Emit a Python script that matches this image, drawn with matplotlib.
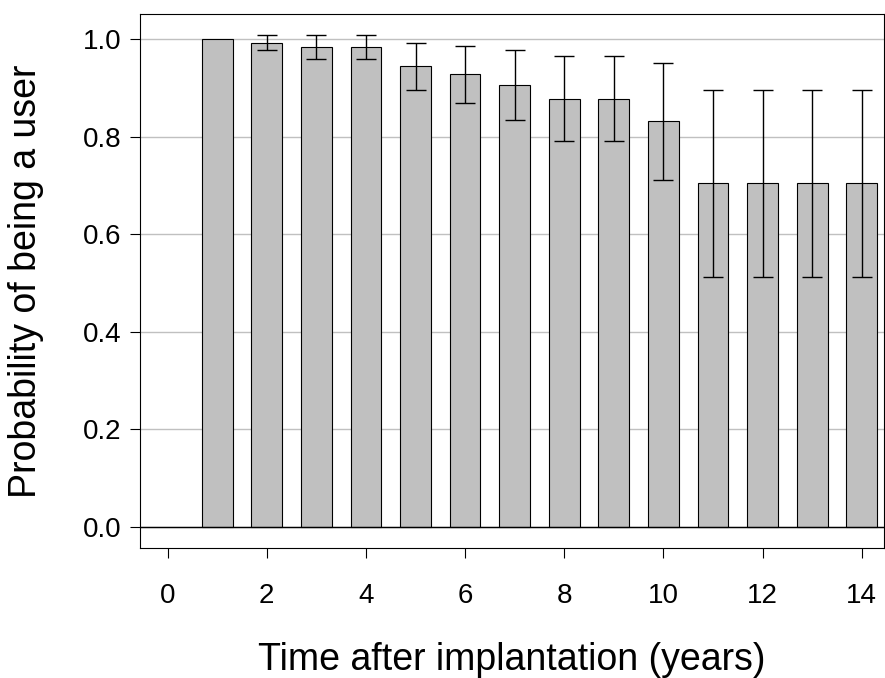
import matplotlib

matplotlib.use("Agg")
import matplotlib.pyplot as plt  # noqa: E402
import numpy as np  # noqa: E402

plt.rcParams["font.family"] = ["Liberation Sans", "DejaVu Sans"]

years = np.arange(1, 15)
prob = [1.0, 0.992, 0.984, 0.984, 0.944, 0.928, 0.905, 0.878, 0.878, 0.832,
        0.704, 0.704, 0.704, 0.704]
upper = [np.nan, 1.008, 1.008, 1.008, 0.993, 0.986, 0.977, 0.966, 0.966, 0.952,
         0.896, 0.896, 0.896, 0.896]
lower = [np.nan, 0.977, 0.960, 0.960, 0.896, 0.870, 0.835, 0.791, 0.791, 0.711,
         0.512, 0.512, 0.512, 0.512]


def main() -> None:
    p = np.array(prob)
    hi = np.array(upper) - p
    lo = p - np.array(lower)
    fig = plt.figure(figsize=(8.85, 6.78), dpi=100)
    ax = fig.add_axes([0.158, 0.192, 0.841, 0.787])
    ax.yaxis.grid(True, color="#c0c0c0", lw=1)
    ax.set_axisbelow(True)
    ax.bar(years, p, width=0.62, color="#c0c0c0", edgecolor="black", lw=0.8, zorder=2)
    m = ~np.isnan(hi)
    ax.errorbar(years[m], p[m], yerr=[lo[m], hi[m]], fmt="none", ecolor="black",
                elinewidth=1, capsize=7, capthick=1, zorder=3)
    ax.axhline(0, color="black", lw=1, zorder=3)
    ax.set_xlim(-0.56, 14.45)
    ax.set_ylim(-0.043, 1.051)
    ax.set_xticks(range(0, 15, 2))
    ax.set_yticks(np.arange(0, 1.01, 0.2))
    ax.set_yticklabels([f"{v:.1f}" for v in np.arange(0, 1.01, 0.2)])
    ax.tick_params(labelsize=20, direction="out", length=7, pad=6)
    ax.tick_params(axis="x", pad=18)
    ax.set_xlabel("Time after implantation (years)", fontsize=27, labelpad=24)
    ax.set_ylabel("Probability of being a user", fontsize=27, labelpad=28)
    fig.savefig("out.png", dpi=100)


if __name__ == "__main__":
    main()
